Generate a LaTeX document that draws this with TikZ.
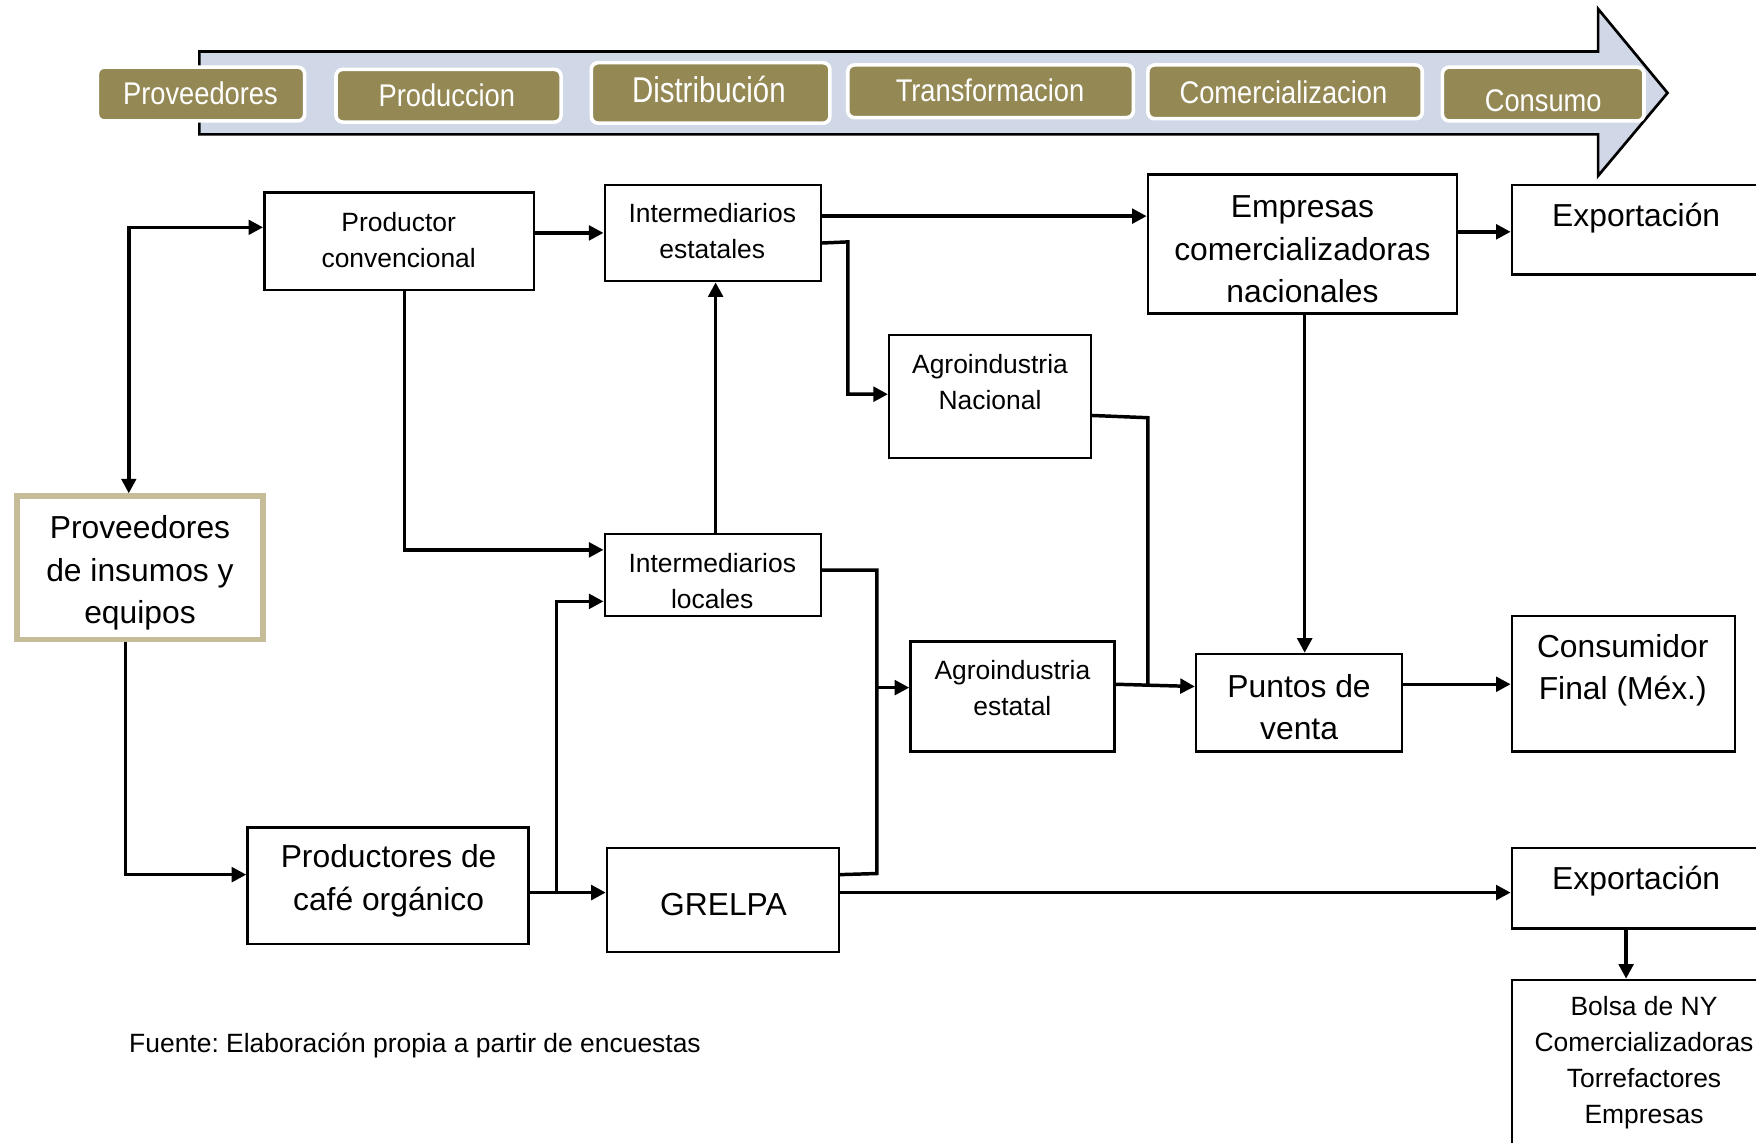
\documentclass[tikz,border=0pt]{standalone}
\usepackage{fontspec}
\setmainfont{Liberation Sans}
\newfontfamily\narrowfont[FakeStretch=0.87]{Liberation Sans}
\newfontfamily\narrowfontb[FakeStretch=0.82]{Liberation Sans}
\usetikzlibrary{arrows.meta,fit}
\definecolor{olivebox}{RGB}{148,137,84}
\definecolor{lavband}{RGB}{208,216,232}
\definecolor{tanedge}{RGB}{198,189,152}
\newcommand\fsmall{\fontsize{11.8pt}{16pt}\selectfont}
\newcommand\fbig{\fontsize{14.2pt}{19pt}\selectfont}
\frenchspacing
\begin{document}
\begin{tikzpicture}[x=0.5pt,y=-0.5pt,
  box/.style={draw=black, line width=1.1pt, inner sep=0pt, rectangle},
  provbox/.style={draw=tanedge, line width=2.5pt, inner sep=0pt, rectangle},
  stage/.style={draw=white, fill=olivebox, line width=1.6pt, inner sep=0pt, rounded corners=3pt},
  stagetxt/.style={text=white, inner sep=0pt, font=\narrowfont\fontsize{14pt}{16pt}\selectfont},
  small/.style={inner sep=0pt, align=center, font=\fsmall, yshift=-1pt},
  big/.style={inner sep=0pt, align=center, font=\fbig, yshift=-1.3pt},
  line/.style={line width=1.55pt},
  arr/.style={line width=1.55pt, -{Triangle[length=6.5pt,width=6.5pt]}},
  darr/.style={line width=1.55pt, {Triangle[length=6.5pt,width=6.5pt]}-{Triangle[length=6.5pt,width=6.5pt]}}
]
\useasboundingbox (0,0) rectangle (1568,1020);
\clip (0,0) rectangle (1568,1020);

% ---------- banner arrow ----------
\draw[fill=lavband, line width=1.2pt, line join=miter]
  (178,46) -- (1427,46) -- (1427,8) -- (1489,83) -- (1427,157) -- (1427,120) -- (178,120) -- cycle;

\node[stage, fit={(87,60) (272,108)}] (b1) {};
\node[stage, fit={(300,62) (501,109)}] (b2) {};
\node[stage, fit={(528,56) (741,110)}] (b3) {};
\node[stage, fit={(757,58) (1012,105)}] (b4) {};
\node[stage, fit={(1025,58) (1270,106)}] (b5) {};
\node[stage, fit={(1288,60) (1468,108)}] (b6) {};

\node[stagetxt] (s1) at (179,83) {Proveedores};
\node[stagetxt] (s2) at (399,85) {Produccion};
\node[stagetxt, font=\narrowfontb\fontsize{16pt}{18pt}\selectfont] (s3) at (633,80) {Distribución};
\node[stagetxt] (s4) at (884,81) {Transformacion};
\node[stagetxt] (s5) at (1146,82) {Comercializacion};
\node[stagetxt] (s6) at (1378,90) {Consumo};

% ---------- boxes ----------
\node[box, fit={(236,172) (477,259)}] (pc) {};
\node[box, fit={(540,165) (733,251)}] (ie) {};
\node[box, fit={(1025,156) (1301,280)}] (ecn) {};
\node[box, fit={(1350,165) (1580,245)}] (ex1) {};
\node[box, fit={(794,299) (974,409)}] (an) {};
\node[provbox, fit={(15,443) (235,571)}] (prov) {};
\node[box, fit={(540,477) (733,550)}] (il) {};
\node[box, fit={(813,573) (995,671)}] (ae) {};
\node[box, fit={(1068,584) (1252,671)}] (pv) {};
\node[box, fit={(1350,550) (1549,671)}] (cf) {};
\node[box, fit={(221,739) (472,843)}] (pco) {};
\node[box, fit={(542,757) (749,850)}] (gr) {};
\node[box, fit={(1350,757) (1580,829)}] (ex2) {};
\node[box, fit={(1350,875) (1580,1040)}] (bny) {};

% ---------- texts ----------
\node[small] (tpc) at (356,212) {Productor\\convencional};
\node[small] (tie) at (636,204.5) {Intermediarios\\estatales};
\node[big] (tecn) at (1163,220) {Empresas\\comercializadoras\\nacionales};
\node[big] (tex1) at (1461,192) {Exportación};
\node[small] (tan) at (884,339.5) {Agroindustria\\Nacional};
\node[big] (tprov) at (125,509) {Proveedores\\de insumos y\\equipos};
\node[small] (til) at (636,516.5) {Intermediarios\\locales};
\node[small] (tae) at (904,612.5) {Agroindustria\\estatal};
\node[big] (tpv) at (1160,629) {Puntos de\\venta};
\node[big] (tcf) at (1449,596) {Consumidor\\Final (Méx.)};
\node[big] (tpco) at (347,784) {Productores de\\café orgánico};
\node[big] (tgr) at (646,805) {GRELPA};
\node[big] (tex2) at (1461,784) {Exportación};
\node[small] (tbny) at (1468,947) {Bolsa de NY\\Comercializadoras\\Torrefactores\\Empresas};
\node[small, anchor=west] (src) at (115,932) {Fuente: Elaboración propia a partir de encuestas};

% ---------- connectors ----------
\draw[darr] (pc.west |- 0,203) -| (prov.north -| 115,0);
\draw[arr] (pc.east |- 0,208) -- (ie.west |- 0,208);
\draw[arr] (pc.south -| 361,0) |- (il.west |- 0,491);
\draw[arr] (il.north -| 639,0) -- (ie.south -| 639,0);
\draw[arr] (ie.east |- 0,193) -- (ecn.west |- 0,193);
\draw[arr] (ie.east |- 0,217) -- (757,216) |- (an.west |- 0,352);
\draw[arr] (ecn.east |- 0,207) -- (ex1.west |- 0,207);
\draw[arr] (ecn.south -| 1165,0) -- (pv.north -| 1165,0);
\draw[line] (an.east |- 0,371) -- (1025,373) -- (1025,612);
\draw[arr] (ae.east |- 0,611) -- (pv.west |- 0,613);
\draw[line] (il.east |- 0,509) -| (783,780) -- (gr.east |- 0,781);
\draw[arr] (783,614) -- (ae.west |- 0,614);
\draw[arr] (pv.east |- 0,611) -- (cf.west |- 0,611);
\draw[arr] (prov.south -| 112,0) |- (pco.west |- 0,781);
\draw[arr] (pco.east |- 0,797) -- (gr.west |- 0,797);
\draw[arr] (497,797) |- (il.west |- 0,537);
\draw[arr] (gr.east |- 0,797) -- (ex2.west |- 0,797);
\draw[arr] (ex2.south -| 1452,0) -- (bny.north -| 1452,0);
\end{tikzpicture}
\end{document}
